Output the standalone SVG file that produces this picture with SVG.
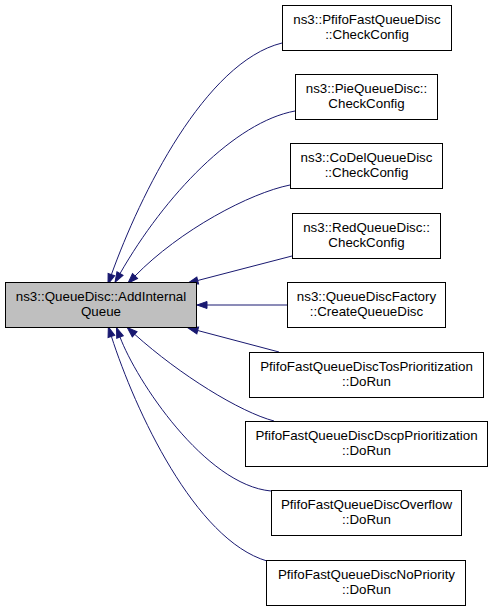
<svg xmlns="http://www.w3.org/2000/svg" width="493" height="611" viewBox="0 0 493 611">
<style>
.n rect{fill:#fff;stroke:#000;stroke-width:1}
.n.m rect{fill:#bfbfbf}
.n text{font-family:"Liberation Sans",Arial,sans-serif;font-size:13.33px;text-anchor:middle;fill:#000}
.e path{fill:none;stroke:#191970;stroke-width:1;marker-end:url(#ah)}
</style>
<defs>
<marker id="ah" markerUnits="userSpaceOnUse" markerWidth="12" markerHeight="10" refX="0" refY="0" orient="auto" viewBox="-1 -5 12 10" overflow="visible">
<path d="M0,-3.5 L10,0 L0,3.5 Z" fill="#191970" stroke="#191970" stroke-width="1"/>
</marker>
</defs>
<rect width="493" height="611" fill="#fff"/>
<g id="edges" class="e">
<path d="M282,43 C205,62 140,195 111.4,274.6"/>
<path d="M295,111 C235,122 165,195 120,273.6"/>
<path d="M290,185 C250,193 180,230 135,276"/>
<path d="M292,256 L197.7,280.5"/>
<path d="M287,305 L207,305"/>
<path d="M279,352 L197.7,330.5"/>
<path d="M274,421 C240,412 180,375 134.7,334.3"/>
<path d="M271,491 C205,485 136,380 120,337"/>
<path d="M267,561 C195,540 135,410 111.4,336.4"/>
</g>
<g id="main" class="n m"><rect x="5.5" y="282.5" width="191" height="45"/><text x="101" y="300.5">ns3::QueueDisc::AddInternal</text><text x="101" y="315.5">Queue</text></g>
<g id="n1" class="n"><rect x="282.5" y="5.5" width="169" height="45"/><text x="367" y="23.5">ns3::PfifoFastQueueDisc</text><text x="367" y="38.5">::CheckConfig</text></g>
<g id="n2" class="n"><rect x="295.5" y="74.5" width="142" height="45"/><text x="366.5" y="92.5">ns3::PieQueueDisc::</text><text x="366.5" y="107.5">CheckConfig</text></g>
<g id="n3" class="n"><rect x="290.5" y="143.5" width="152" height="45"/><text x="366.5" y="161.5">ns3::CoDelQueueDisc</text><text x="366.5" y="176.5">::CheckConfig</text></g>
<g id="n4" class="n"><rect x="292.5" y="213.5" width="148" height="45"/><text x="366.5" y="231.5">ns3::RedQueueDisc::</text><text x="366.5" y="246.5">CheckConfig</text></g>
<g id="n5" class="n"><rect x="287.5" y="282.5" width="158" height="45"/><text x="366.5" y="300.5">ns3::QueueDiscFactory</text><text x="366.5" y="315.5">::CreateQueueDisc</text></g>
<g id="n6" class="n"><rect x="249.5" y="352.5" width="234" height="45"/><text x="366.5" y="370.5">PfifoFastQueueDiscTosPrioritization</text><text x="366.5" y="385.5">::DoRun</text></g>
<g id="n7" class="n"><rect x="245.5" y="421.5" width="242" height="45"/><text x="366.5" y="439.5">PfifoFastQueueDiscDscpPrioritization</text><text x="366.5" y="454.5">::DoRun</text></g>
<g id="n8" class="n"><rect x="271.5" y="490.5" width="190" height="45"/><text x="366.5" y="508.5">PfifoFastQueueDiscOverflow</text><text x="366.5" y="523.5">::DoRun</text></g>
<g id="n9" class="n"><rect x="266.5" y="560.5" width="199" height="45"/><text x="366.5" y="578.5">PfifoFastQueueDiscNoPriority</text><text x="366.5" y="593.5">::DoRun</text></g>
</svg>
